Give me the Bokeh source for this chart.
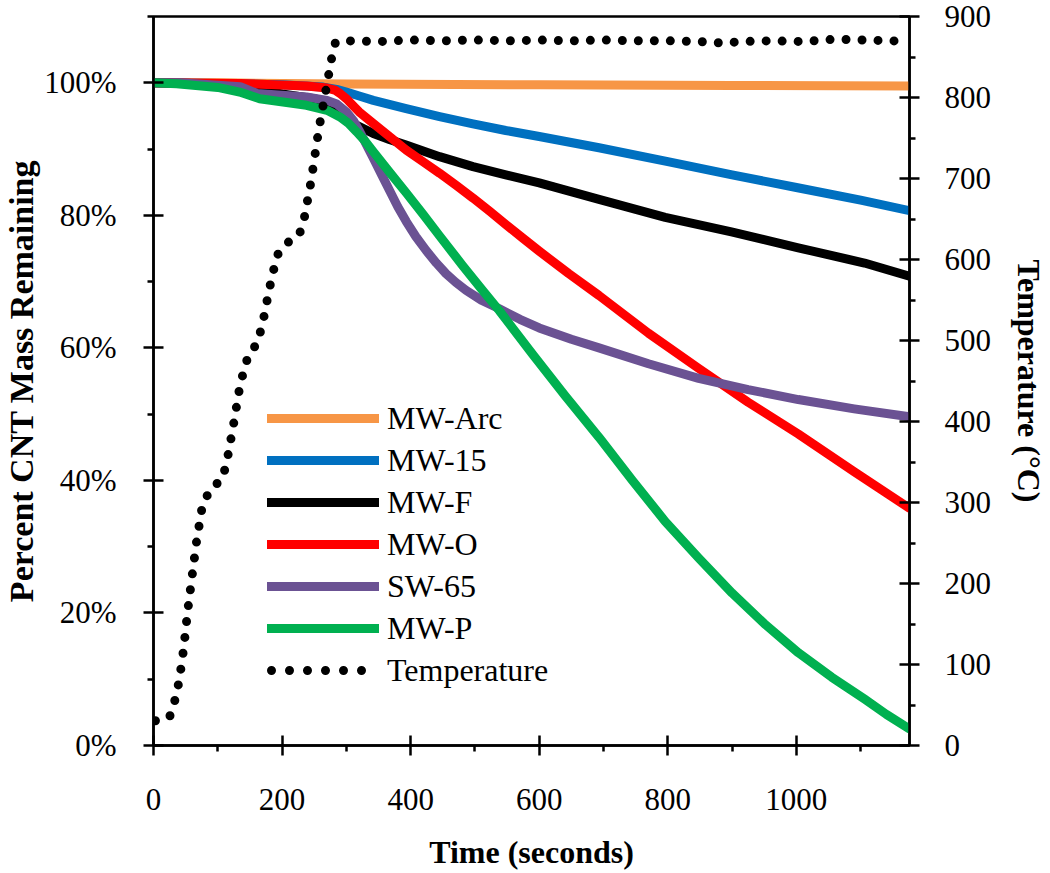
from bokeh.plotting import figure
from bokeh.models import Range1d, LinearAxis, FixedTicker, PrintfTickFormatter, Legend, LegendItem
from bokeh.embed import file_html
from bokeh.resources import INLINE

# ---------------- data ----------------
arc_t = [0, 100, 200, 300, 600, 900, 1176]
arc_v = [100, 100, 99.9, 99.8, 99.7, 99.6, 99.5]

mw15_t = [0, 100, 200, 264, 285, 300, 320, 342, 393, 445, 497, 548, 600, 693, 800, 900, 1000, 1100, 1176]
mw15_v = [100, 99.9, 99.7, 99.35, 99.0, 98.6, 98.0, 97.35, 96.1, 94.9, 93.8, 92.8, 91.9, 90.2, 88.1, 86.1, 84.2, 82.3, 80.7]

mwf_t = [0, 100, 150, 200, 250, 270, 282, 290, 303, 316, 342, 368, 393, 445, 497, 548, 600, 693, 796, 899, 1003, 1106, 1176]
mwf_v = [100, 99.8, 99.2, 98.3, 97.6, 97.1, 96.3, 95.3, 94.3, 93.6, 92.35, 91.4, 90.6, 88.85, 87.35, 86.1, 84.9, 82.4, 79.7, 77.5, 75.1, 72.8, 70.8]

mwo_t = [0, 135, 238, 270, 282, 290, 300, 310, 320, 342, 368, 393, 419, 445, 471, 497, 523, 548, 574, 600,
         646, 693, 770, 848, 925, 1003, 1090, 1176]
mwo_v = [100, 99.9, 99.5, 99.2, 98.9, 98.4, 97.6, 96.6, 95.6, 93.85, 91.8, 89.85, 88.1, 86.35, 84.5, 82.6, 80.6, 78.6, 76.6, 74.6,
         71.2, 67.9, 62.2, 56.9, 51.8, 47.0, 41.3, 35.8]

sw65_t = [0, 40, 135, 161, 238, 270, 285, 300, 311, 321, 331, 342, 355, 368, 380, 393, 408, 424, 440, 455, 470, 486,
          510, 538, 570, 600, 650, 693, 770, 848, 925, 1003, 1090, 1176]
sw65_v = [100, 100, 99.4, 98.4, 97.85, 97.35, 96.8, 95.6, 94.3, 92.6, 90.7, 88.6, 86.1, 83.6, 81.3, 79.1, 76.8, 74.7, 72.8, 71.2, 69.9, 68.7,
          67.2, 65.9, 64.3, 63.0, 61.3, 60.0, 57.6, 55.4, 53.7, 52.2, 50.8, 49.6]

mwp_t = [0, 36, 100, 134, 165, 238, 270, 290, 303, 316, 329, 342, 368, 393, 419, 445, 481, 510, 538, 590, 640,
         693, 745, 796, 848, 900, 950, 1003, 1055, 1106, 1140, 1176]
mwp_v = [100, 99.85, 99.3, 98.6, 97.6, 96.6, 95.85, 94.85, 93.9, 92.6, 91.2, 89.6, 86.4, 83.4, 80.2, 76.9, 72.4, 68.9, 65.6, 59.0, 52.8,
         46.5, 40.0, 33.8, 28.3, 23.0, 18.4, 14.0, 10.3, 7.0, 4.7, 2.5]

temp_t = [0, 25, 33, 40, 47, 53, 60, 67, 76, 88, 107, 114, 124, 133, 140, 147, 162, 170, 180, 192,
          209, 227, 235, 245, 257, 267, 277, 283, 300, 350, 400, 450, 500, 560, 600, 650, 700, 750,
          800, 850, 891, 910, 960, 1015, 1040, 1065, 1100, 1150, 1176]
temp_v = [30, 35, 55, 80, 120, 165, 209, 252, 296, 316, 329, 350, 394, 437, 462, 480, 498, 522, 563, 605,
          621, 631, 653, 696, 760, 804, 848, 868, 870, 869, 871, 870, 871, 870, 871, 870, 871, 870,
          870, 869, 867, 869, 870, 869, 871, 872, 871, 870, 868]

series_names = ["MW-Arc", "MW-15", "MW-F", "MW-O", "SW-65", "MW-P"]
series_colors = ["#F79646", "#0070C0", "#000000", "#FF0000", "#6B5293", "#00B050"]
series_t = [arc_t, mw15_t, mwf_t, mwo_t, sw65_t, mwp_t]
series_v = [arc_v, mw15_v, mwf_v, mwo_v, sw65_v, mwp_v]

x_major = [0, 200, 400, 600, 800, 1000]
x_minor = [100, 300, 500, 700, 900, 1100]
y_major = [0, 20, 40, 60, 80, 100]
y_minor = [10, 30, 50, 70, 90, 110]
t_major = [0, 100, 200, 300, 400, 500, 600, 700, 800, 900]
t_minor = [50, 150, 250, 350, 450, 550, 650, 750, 850]

FONT = "Liberation Serif"

p = figure(width=1050, height=873, output_backend="svg", toolbar_location=None,
           x_range=Range1d(0, 1176), y_range=Range1d(0, 110),
           min_border_left=153, min_border_right=138, min_border_top=16, min_border_bottom=128)
p.xgrid.visible = False
p.ygrid.visible = False
p.outline_line_color = "black"
p.outline_line_width = 2.5
p.outline_line_alpha = 1
p.background_fill_color = "white"
p.border_fill_color = "white"
p.extra_y_ranges = {"temp": Range1d(0, 900)}

def style_axis(ax, label, label_standoff, tick_standoff, title_size="32px"):
    ax.axis_label = label
    ax.axis_line_color = "black"
    ax.axis_line_width = 2.5
    ax.major_tick_line_color = "black"
    ax.major_tick_line_width = 2.5
    ax.minor_tick_line_color = "black"
    ax.minor_tick_line_width = 2.5
    ax.major_tick_in = 10
    ax.major_tick_out = 10
    ax.minor_tick_in = 0
    ax.minor_tick_out = 6
    ax.major_label_text_font = FONT
    ax.major_label_text_font_size = "31px"
    ax.major_label_text_color = "black"
    ax.major_label_standoff = tick_standoff
    ax.axis_label_text_font = FONT
    ax.axis_label_text_font_size = title_size
    ax.axis_label_text_font_style = "bold"
    ax.axis_label_text_color = "black"
    ax.axis_label_standoff = label_standoff

xa = p.xaxis[0]
xa.ticker = FixedTicker(ticks=x_major, minor_ticks=x_minor)
style_axis(xa, "Time (seconds)", 21, 33)

ya = p.yaxis[0]
ya.ticker = FixedTicker(ticks=y_major, minor_ticks=y_minor)
ya.formatter = PrintfTickFormatter(format="%d%%")
style_axis(ya, "Percent CNT Mass Remaining", 1, 27, "34px")

ra = LinearAxis(y_range_name="temp")
ra.ticker = FixedTicker(ticks=t_major, minor_ticks=t_minor)
style_axis(ra, "Temperature (°C)", 17, 25)
p.add_layout(ra, "right")

items = []
for name, col, tt, vv in zip(series_names, series_colors, series_t, series_v):
    r = p.line(tt, vv, line_color=col, line_width=9, line_cap="round", line_join="round")
    items.append(LegendItem(label=name, renderers=[r]))

p.line(temp_t, temp_v, y_range_name="temp", line_color="black", line_width=9,
       line_dash="0 16", line_dash_offset=14, line_cap="round", line_join="round")
# legend swatch for the temperature series: a one-point line (draws nothing in the plot)
rt_key = p.line(temp_t[:1], temp_v[:1], y_range_name="temp", line_color="black", line_width=9,
                line_dash="0 18", line_dash_offset=14, line_cap="round")
items.append(LegendItem(label="Temperature", renderers=[rt_key]))

leg = Legend(items=items, location=(114, 54), glyph_width=112, glyph_height=42,
             label_height=42, label_standoff=8, spacing=0, padding=0, margin=0,
             label_text_font=FONT, label_text_font_size="32px", label_text_color="black",
             border_line_color=None, background_fill_alpha=0)
p.add_layout(leg, "center")

open("out.html", "w").write(file_html(p, INLINE))
